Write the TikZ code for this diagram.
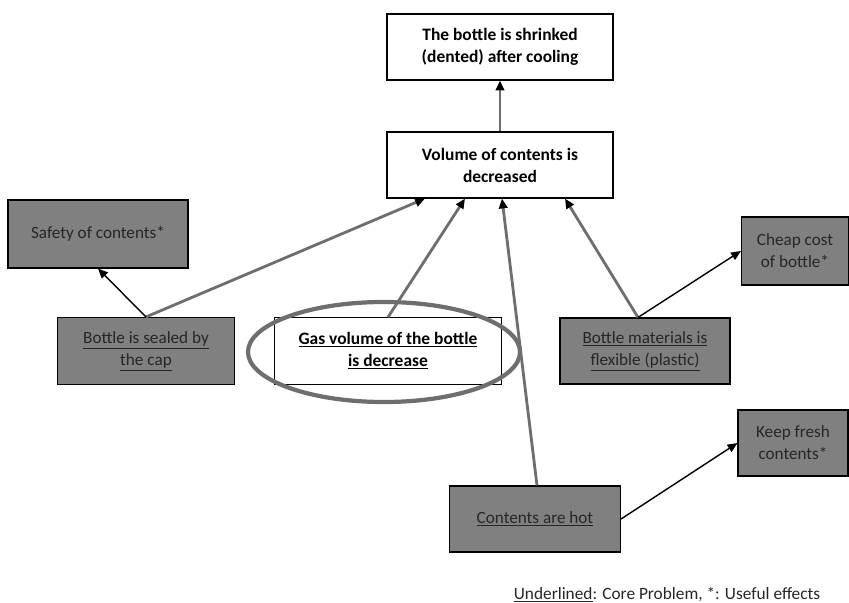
\documentclass[tikz,border=0pt]{standalone}
\usepackage{fontspec}
\setmainfont{Carlito}
\usetikzlibrary{arrows.meta}
\definecolor{boxgray}{RGB}{128,128,128}
\definecolor{txtgray}{RGB}{38,38,38}
\definecolor{linegray}{RGB}{110,110,110}
\tikzset{
	whitebox/.style={draw=black, line width=0.8pt, fill=white, align=center, font=\bfseries\fontsize{12.4}{15.6}\selectfont},
	graybox/.style={draw=black, line width=0.8pt, fill=boxgray, text=txtgray, align=center, font=\fontsize{12.2}{15.6}\selectfont},
	cause/.style={draw=linegray, line width=2pt, -{Triangle[length=7pt 0 0, width=6pt 0 0, color=black]}},
	effect/.style={draw=black, line width=1pt, -{Triangle[length=7pt 0 0, width=6pt 0 0]}}
}
\begin{document}
\begin{tikzpicture}[x=0.025cm, y=-0.025cm]
\useasboundingbox (0,0) rectangle (849,603);
% boxes
\node[whitebox, minimum width=5.65cm, minimum height=1.65cm] (shrink) at (500,47) {The bottle is shrinked\\(dented) after cooling};
\node[whitebox, minimum width=5.65cm, minimum height=1.65cm] (volume) at (500,165) {Volume of contents is\\decreased};
\node[graybox, minimum width=4.5cm, minimum height=1.7cm] (safety) at (98,234) {Safety of contents*};
\node[graybox, minimum width=4.425cm, minimum height=1.675cm] (sealed) at (146,351) {\underline{Bottle is sealed by}\\\underline{the cap}};
\node[whitebox, line width=0.5pt, minimum width=5.675cm, minimum height=1.675cm] (gas) at (388,351) {\underline{Gas volume of the bottle}\\\underline{is decrease}};
\draw[linegray, line width=3pt] (384,352) ellipse (3.4cm and 1.25cm);
\node[graybox, minimum width=4.25cm, minimum height=1.65cm] (material) at (645,351) {\underline{Bottle materials is}\\\underline{flexible (plastic)}};
\node[graybox, minimum width=2.675cm, minimum height=1.7cm] (cheap) at (795,251) {Cheap cost\\of bottle*};
\node[graybox, minimum width=2.75cm, minimum height=1.65cm] (fresh) at (793,443) {Keep fresh\\contents*};
\node[graybox, minimum width=4.275cm, minimum height=1.65cm] (hot) at (535,519) {\underline{Contents are hot}};
% arrows
\draw[cause] (volume.north) -- (shrink.south);
\draw[cause] (sealed.north) -- ([xshift=-1.875cm]volume.south);
\draw[cause] (gas.north) -- ([xshift=-0.875cm]volume.south);
\draw[cause] ([xshift=0.05cm]hot.north) -- ([xshift=0.05cm]volume.south);
\draw[cause] ([xshift=-0.175cm]material.north) -- ([xshift=1.625cm]volume.south);
\draw[effect] (sealed.north) -- ([xshift=0cm]safety.south);
\draw[effect] ([xshift=-0.175cm]material.north) -- (cheap.west);
\draw[effect] (hot.east) -- (fresh.west);
% legend
\node[font=\fontsize{12.3}{14}\selectfont, text=txtgray] (legend) at (667,595) {\underline{Underlined}: Core Problem, *: Useful effects};
\end{tikzpicture}
\end{document}
